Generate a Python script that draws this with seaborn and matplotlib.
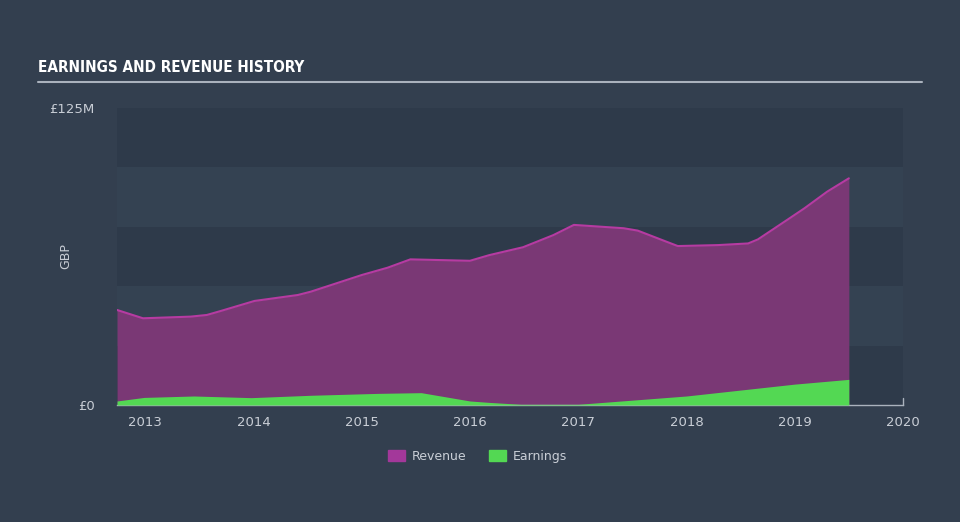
import numpy as np
import pandas as pd
import matplotlib
matplotlib.use("Agg")
import matplotlib.pyplot as plt
import matplotlib.patches as mpatches
import seaborn as sns

# Revenue history (GBP millions)
rev_years = [2012.74, 2012.98, 2013.42, 2013.57, 2013.70, 2014.01, 2014.41, 2014.53,
             2015.00, 2015.24, 2015.45, 2016.00, 2016.18, 2016.49, 2016.77, 2016.96,
             2017.42, 2017.55, 2017.76, 2017.92, 2018.29, 2018.57, 2018.66, 2018.93,
             2019.09, 2019.30, 2019.50]
revenue = [40.0, 36.5, 37.2, 37.9, 39.6, 43.8, 46.3, 47.7,
           54.7, 57.8, 61.3, 60.7, 63.1, 66.4, 71.5, 75.8,
           74.4, 73.4, 69.7, 66.9, 67.3, 68.0, 69.7, 77.9,
           82.8, 89.8, 95.4]

# Earnings history (GBP millions)
earn_years = [2012.74, 2012.99, 2013.45, 2013.98, 2014.53, 2015.15, 2015.55,
              2016.00, 2016.18, 2016.47, 2017.00, 2018.00, 2019.00, 2019.50]
earnings = [1.7, 3.2, 3.8, 3.1, 4.1, 4.9, 5.2,
            1.7, 1.1, 0.3, 0.3, 3.8, 8.8, 10.8]

year_ticks = [2013, 2014, 2015, 2016, 2017, 2018, 2019, 2020]
y_ticks = [0, 125]
y_tick_labels = ["£0", "£125M"]

BG = "#333f4f"
BAND_DARK = "#2e3a4a"
BAND_LIGHT = "#344252"
REV_FILL = "#7a3875"
REV_LINE = "#b63ba2"
EARN_FILL = "#53d853"
TEXT = "#c9ced6"

df_rev = pd.DataFrame({"year": rev_years, "value": revenue})
df_earn = pd.DataFrame({"year": earn_years, "value": earnings})

sns.set_style("dark")
plt.rcParams["font.family"] = ["DejaVu Sans"]

fig = plt.figure(figsize=(9.6, 5.22), dpi=100, facecolor=BG)
ax = fig.add_axes([0.1219, 0.2241, 0.8187, 0.5690])
ax.set_facecolor(BG)

# alternating horizontal bands
for i, lo in enumerate(range(0, 125, 25)):
    ax.axhspan(lo, lo + 25, color=BAND_DARK if i % 2 == 0 else BAND_LIGHT, lw=0, zorder=0)

ax.fill_between(df_rev["year"], df_rev["value"], color=REV_FILL, lw=0, zorder=2)
sns.lineplot(data=df_rev, x="year", y="value", ax=ax, color=REV_LINE, lw=1.5, zorder=3)
ax.fill_between(df_earn["year"], df_earn["value"], color=EARN_FILL, lw=0, zorder=4)

ax.set_xlim(2012.74, 2020)
ax.set_ylim(0, 125)
ax.set_xticks(year_ticks)
ax.set_xticklabels([str(y) for y in year_ticks])
ax.set_yticks(y_ticks)
ax.set_yticklabels(y_tick_labels)
ax.tick_params(axis="x", colors="#aab2bd", labelcolor=TEXT, labelsize=9.5,
               direction="out", length=6, width=1, pad=2)
ax.tick_params(axis="y", length=0, labelcolor=TEXT, labelsize=9.5, pad=16)
ax.set_xlabel("")
ax.set_ylabel("GBP", color=TEXT, fontsize=9)
ax.yaxis.set_label_coords(-0.057, 0.5)
for s in ["top", "right", "left"]:
    ax.spines[s].set_visible(False)
ax.spines["bottom"].set_color("#aab2bd")
ax.spines["bottom"].set_linewidth(1)
ax.grid(False)
# small end marker at 2020
ax.plot([2020, 2020], [0, 3], color="#aab2bd", lw=1, clip_on=False, zorder=5)

# title and rule
fig.text(0.040, 0.870, "EARNINGS AND REVENUE HISTORY", color="white", fontsize=11,
         fontweight="bold", fontstretch="condensed", family=["DejaVu Sans"],
         ha="left", va="center")
fig.add_artist(plt.Line2D([0.040, 0.960], [0.843, 0.843], color="#aab2bd", lw=1.5))

handles = [mpatches.Patch(color="#a3389a", label="Revenue"),
           mpatches.Patch(color=EARN_FILL, label="Earnings")]
fig.legend(handles=handles, loc="center", bbox_to_anchor=(0.497, 0.126), ncol=2,
           frameon=False, fontsize=9, labelcolor=TEXT, handlelength=1.4,
           handleheight=1.0, columnspacing=1.8, handletextpad=0.5)

fig.savefig("out.png", dpi=100, facecolor=BG)
